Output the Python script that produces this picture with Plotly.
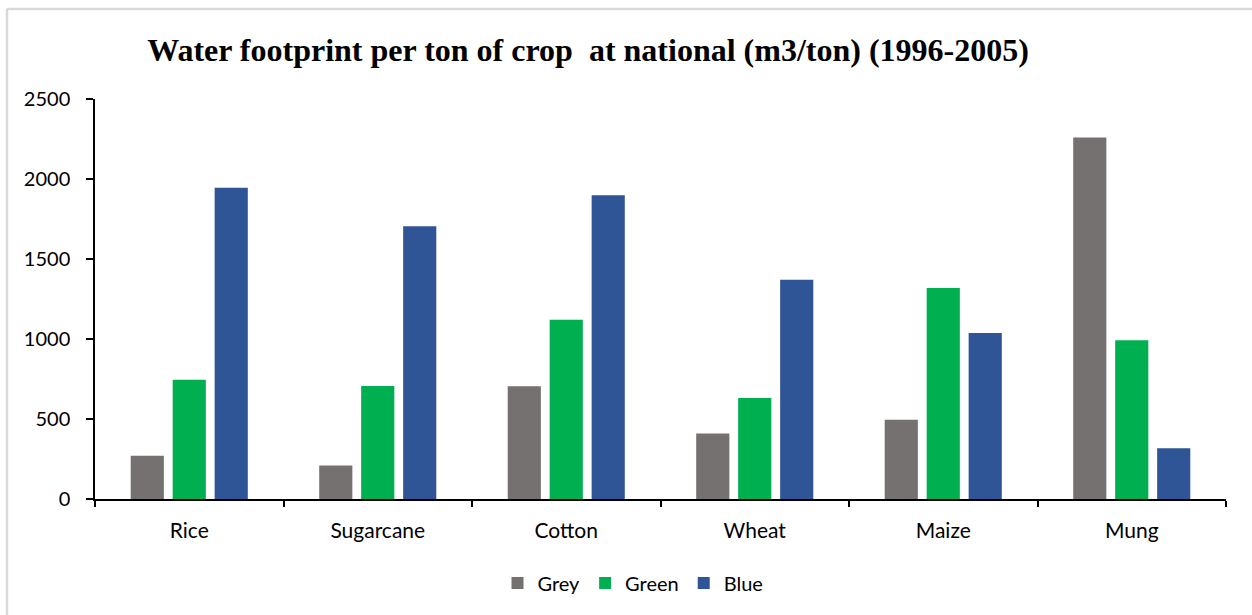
import plotly.graph_objects as go

# Crop categories and water footprint components (m3/ton), 1996-2005
crops = ["Rice", "Sugarcane", "Cotton", "Wheat", "Maize", "Mung"]
grey_wf = [270, 210, 705, 410, 495, 2260]
green_wf = [745, 706, 1120, 632, 1318, 992]
blue_wf = [1945, 1705, 1898, 1370, 1038, 317]

y_ticks = [0, 500, 1000, 1500, 2000, 2500]

series = [
    ("Grey", grey_wf, "#767171"),
    ("Green", green_wf, "#00B050"),
    ("Blue", blue_wf, "#2F5597"),
]

fig = go.Figure()
for name, vals, color in series:
    fig.add_trace(go.Bar(
        x=crops, y=vals, name=name,
        marker=dict(color=color, line=dict(width=0)),
    ))

W, H = 1252, 615
L, R, T, B = 95, 26, 99, 116
pw, ph = W - L - R, H - T - B


def px_x(x):
    return (x - L) / pw


def px_y(y):
    return (H - B - y) / ph


tick_font = dict(family="Lato, 'Open Sans', sans-serif", size=20, color="#000000")
cat_font = dict(family="Lato, 'Open Sans', sans-serif", size=21, color="#000000")

fig.update_layout(
    width=W, height=H,
    margin=dict(l=L, r=R, t=T, b=B, pad=0),
    paper_bgcolor="white", plot_bgcolor="white",
    barmode="group", bargap=0.332, bargroupgap=0.21,
    showlegend=True,
    legend=dict(
        orientation="h", x=px_x(633), y=px_y(583),
        xanchor="center", yanchor="middle",
        font=tick_font, traceorder="normal",
        itemwidth=30,
    ),
    title=dict(
        text="<b>Water footprint per ton of crop \u00a0at national (m3/ton) (1996-2005)</b>",
        font=dict(family="'Liberation Serif', 'Times New Roman', serif", size=32, color="#000000"),
        x=px_x(588), xref="paper", xanchor="center",
        y=1 - 50 / H, yref="container", yanchor="middle",
    ),
    xaxis=dict(
        showline=True, linecolor="#000000", linewidth=2,
        ticks="outside", tickson="boundaries", ticklen=6, tickwidth=2, tickcolor="#000000",
        tickfont=cat_font, ticklabelstandoff=12,
        showgrid=False, zeroline=False,
    ),
    yaxis=dict(
        range=[0, 2500], tickvals=y_ticks,
        showline=True, linecolor="#000000", linewidth=1.5,
        ticks="outside", ticklen=7, tickwidth=1.5, tickcolor="#000000",
        tickfont=tick_font, ticklabelstandoff=12,
        showgrid=False, zeroline=False,
    ),
    shapes=[
        dict(type="line", xref="paper", yref="paper",
             x0=px_x(7), x1=px_x(W + 5), y0=px_y(9), y1=px_y(9),
             line=dict(color="#D9D9D9", width=2.5)),
        dict(type="line", xref="paper", yref="paper",
             x0=px_x(7), x1=px_x(7), y0=px_y(9), y1=px_y(H + 5),
             line=dict(color="#D9D9D9", width=2.5)),
    ],
)

fig.write_html("out.html")
